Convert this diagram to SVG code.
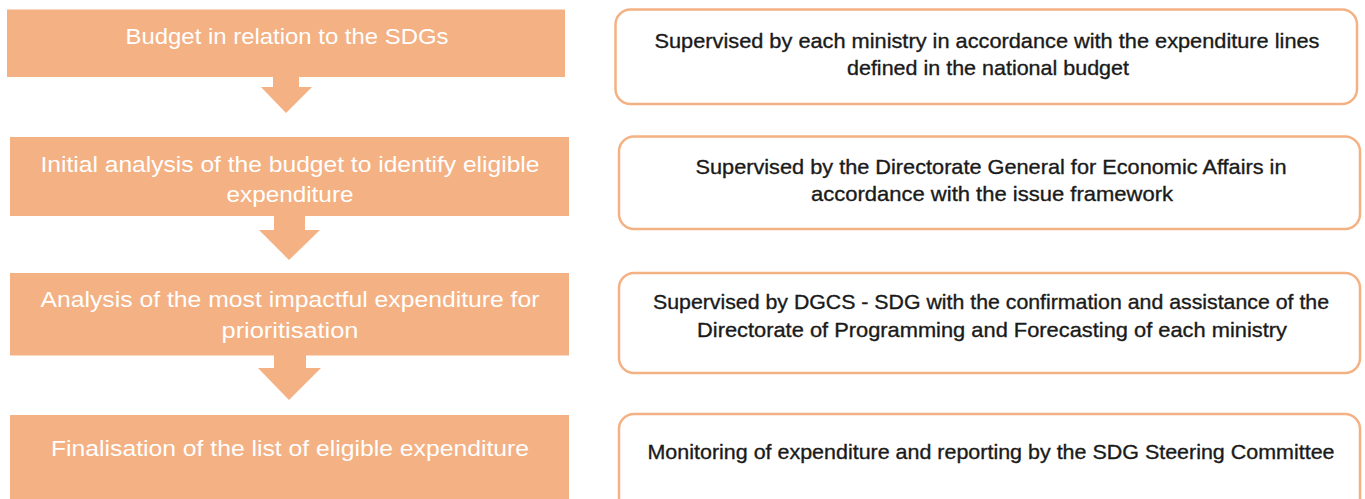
<svg xmlns="http://www.w3.org/2000/svg" width="1365" height="499" viewBox="0 0 1365 499">
<style>
.step{fill:#F4B183;}
.note{fill:#FFFFFF;stroke:#F4B183;stroke-width:2.5;}
.arrow{fill:#F4B183;}
.lt{font-family:"Liberation Sans Narrow","Liberation Sans",Arial,sans-serif;font-size:22px;fill:#FFFFFF;text-anchor:middle;}
.rt{font-family:"Liberation Sans Narrow","Liberation Sans",Arial,sans-serif;font-size:21px;fill:#1A1A1A;stroke:#1A1A1A;stroke-width:0.35;text-anchor:middle;}
</style>
<rect width="1365" height="499" fill="#FFFFFF"/>
<g id="step1">
<rect class="step" x="7" y="9.5" width="558" height="67.5"/>
<text class="lt" x="287" y="44" textLength="323" lengthAdjust="spacingAndGlyphs">Budget in relation to the SDGs</text>
</g>
<g id="step2">
<rect class="step" x="10" y="137" width="559" height="79"/>
<text class="lt" x="290" y="172" textLength="499" lengthAdjust="spacingAndGlyphs">Initial analysis of the budget to identify eligible</text>
<text class="lt" x="290" y="202" textLength="127" lengthAdjust="spacingAndGlyphs">expenditure</text>
</g>
<g id="step3">
<rect class="step" x="10" y="273" width="559" height="82.5"/>
<text class="lt" x="290" y="307" textLength="499" lengthAdjust="spacingAndGlyphs">Analysis of the most impactful expenditure for</text>
<text class="lt" x="290" y="338" textLength="137" lengthAdjust="spacingAndGlyphs">prioritisation</text>
</g>
<g id="step4">
<rect class="step" x="10" y="415" width="559" height="90"/>
<text class="lt" x="290" y="456" textLength="478" lengthAdjust="spacingAndGlyphs">Finalisation of the list of eligible expenditure</text>
</g>
<g id="connectors">
<polygon class="arrow" points="273,77 299,77 299,87 312,87 286,113 261,87 273,87"/>
<polygon class="arrow" points="274,216 305,216 305,230 320,230 289,260 259,230 274,230"/>
<polygon class="arrow" points="274,355 306,355 306,368 321,368 289,400 258,368 274,368"/>
</g>
<g id="note1">
<rect class="note" x="615.5" y="9.5" width="741.5" height="94.5" rx="15"/>
<text class="rt" x="987" y="48" textLength="665" lengthAdjust="spacingAndGlyphs">Supervised by each ministry in accordance with the expenditure lines</text>
<text class="rt" x="988" y="75" textLength="282" lengthAdjust="spacingAndGlyphs">defined in the national budget</text>
</g>
<g id="note2">
<rect class="note" x="619" y="136.5" width="741" height="92.5" rx="15"/>
<text class="rt" x="991" y="174" textLength="591" lengthAdjust="spacingAndGlyphs">Supervised by the Directorate General for Economic Affairs in</text>
<text class="rt" x="992" y="201" textLength="362" lengthAdjust="spacingAndGlyphs">accordance with the issue framework</text>
</g>
<g id="note3">
<rect class="note" x="619" y="273" width="741" height="100" rx="15"/>
<text class="rt" x="991" y="309" textLength="676" lengthAdjust="spacingAndGlyphs">Supervised by DGCS - SDG with the confirmation and assistance of the</text>
<text class="rt" x="992" y="337" textLength="590" lengthAdjust="spacingAndGlyphs">Directorate of Programming and Forecasting of each ministry</text>
</g>
<g id="note4">
<rect class="note" x="619" y="414" width="741" height="100" rx="15"/>
<text class="rt" x="991" y="459" textLength="687" lengthAdjust="spacingAndGlyphs">Monitoring of expenditure and reporting by the SDG Steering Committee</text>
</g>
</svg>
